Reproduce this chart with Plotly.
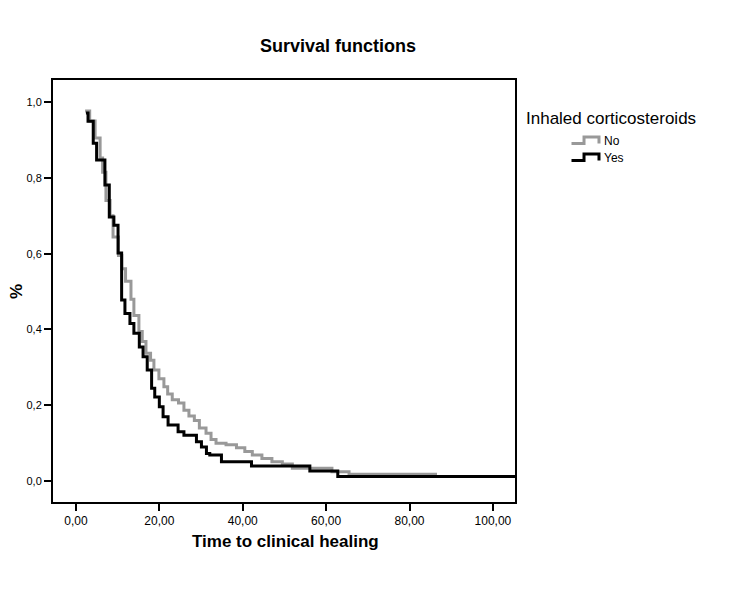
import plotly.graph_objects as go

# Kaplan-Meier step data
t_no = [2.2, 3.3, 4.6, 5.8, 6.4, 7.2, 8.2, 8.9, 10.2, 11.0, 11.9, 13.2, 13.9, 15.1,
        15.9, 16.8, 17.9, 18.7, 19.9, 21.1, 22.0, 23.1, 24.6, 25.9, 27.1, 28.4, 29.6,
        31.2, 32.4, 33.6, 36.0, 38.5, 40.5, 42.3, 44.6, 47.0, 49.5, 51.9, 61.4, 65.5, 86.6]
s_no = [0.976, 0.950, 0.905, 0.852, 0.815, 0.740, 0.700, 0.644, 0.595, 0.560, 0.527,
        0.480, 0.437, 0.395, 0.368, 0.337, 0.319, 0.293, 0.270, 0.249, 0.230, 0.215,
        0.206, 0.187, 0.172, 0.160, 0.140, 0.126, 0.110, 0.100, 0.096, 0.088, 0.078,
        0.069, 0.060, 0.051, 0.045, 0.034, 0.025, 0.018, 0.018]

t_yes = [2.4, 2.9, 4.15, 4.96, 6.95, 8.0, 9.1, 10.1, 10.96, 11.75, 12.95, 13.9, 15.2,
         16.1, 17.1, 18.15, 18.9, 20.0, 20.9, 22.1, 24.5, 25.9, 28.9, 30.1, 31.3, 32.1,
         34.9, 42.1, 56.1, 62.8, 106.0]
s_yes = [0.971, 0.949, 0.891, 0.847, 0.781, 0.697, 0.675, 0.602, 0.478, 0.442, 0.416,
         0.390, 0.354, 0.328, 0.293, 0.245, 0.222, 0.196, 0.170, 0.148, 0.130, 0.121,
         0.104, 0.090, 0.073, 0.069, 0.051, 0.040, 0.027, 0.012, 0.012]

x_ticks = [0, 20, 40, 60, 80, 100]
x_tick_labels = ["0,00", "20,00", "40,00", "60,00", "80,00", "100,00"]
y_ticks = [0, 0.2, 0.4, 0.6, 0.8, 1.0]
y_tick_labels = ["0,0", "0,2", "0,4", "0,6", "0,8", "1,0"]

groups = ["No", "Yes"]
colors = ["#999999", "#000000"]

FONT = "Liberation Sans, Arial, sans-serif"
OFF = 8  # default page body margin
W, H = 744 - OFF, 593 - OFF
L, R, T, B = 53, 515, 80, 502  # plot area in reference pixels

fig = go.Figure()
fig.add_trace(go.Scatter(x=t_no, y=s_no, mode="lines", line=dict(shape="hv", color=colors[0], width=3),
                         name=groups[0], showlegend=False))
fig.add_trace(go.Scatter(x=t_yes, y=s_yes, mode="lines", line=dict(shape="hv", color=colors[1], width=3),
                         name=groups[1], showlegend=False))


def px(xp):
    return (xp - L) / (R - L)


def py(yp):
    return (B - yp) / (B - T)


# manual legend with step icons
shapes = []
annotations = []
for i, (g, c) in enumerate(zip(groups, colors)):
    dy = i * 17
    path = "M {:.4f},{:.4f} L {:.4f},{:.4f} L {:.4f},{:.4f} L {:.4f},{:.4f} L {:.4f},{:.4f}".format(
        px(571.5), py(143.5 + dy), px(584), py(143.5 + dy), px(584), py(137 + dy),
        px(599), py(137 + dy), px(599), py(143.5 + dy))
    shapes.append(dict(type="path", path=path, xref="paper", yref="paper",
                       line=dict(color=c, width=3)))
    annotations.append(dict(text=g, x=px(602), y=py(141 + dy), xref="paper", yref="paper",
                            xanchor="left", yanchor="middle", showarrow=False,
                            font=dict(family=FONT, size=12, color="#000")))
annotations.append(dict(text="Inhaled corticosteroids", x=px(524), y=py(118), xref="paper", yref="paper",
                        xanchor="left", yanchor="middle", showarrow=False,
                        font=dict(family=FONT, size=17, color="#000")))
annotations.append(dict(text="<b>%</b>", x=px(16), y=py(292), xref="paper", yref="paper",
                        xanchor="center", yanchor="middle", showarrow=False, textangle=-90,
                        font=dict(family=FONT, size=17, color="#000")))
annotations.append(dict(text="<b>Time to clinical healing</b>", x=px(285), y=py(541), xref="paper", yref="paper",
                        xanchor="center", yanchor="middle", showarrow=False,
                        font=dict(family=FONT, size=17, color="#000")))

fig.update_layout(
    width=W, height=H,
    margin=dict(l=L - OFF, r=W - (R - OFF), t=T - OFF, b=H - (B - OFF), autoexpand=False),
    paper_bgcolor="white", plot_bgcolor="white",
    font=dict(family=FONT, size=11, color="#000"),
    title=dict(text="<b>Survival functions</b>", xref="container", x=(338 - OFF) / W, xanchor="center",
               yref="container", y=1 - (46 - OFF) / H, yanchor="middle",
               font=dict(family=FONT, size=18, color="#000")),
    xaxis=dict(range=[-5.5, 105.3], tickvals=x_ticks, ticktext=x_tick_labels, automargin=False,
               showgrid=False, zeroline=False, showline=True, linecolor="#000", linewidth=2,
               mirror=True, ticks="outside", ticklen=7, tickwidth=2, tickcolor="#000",
               tickfont=dict(family=FONT, size=12)),
    yaxis=dict(range=[-0.055, 1.058], tickvals=y_ticks, ticktext=y_tick_labels, automargin=False,
               showgrid=False, zeroline=False, showline=True, linecolor="#000", linewidth=2,
               mirror=True, ticks="outside", ticklen=7, tickwidth=2, tickcolor="#000",
               tickfont=dict(family=FONT, size=11)),
    shapes=shapes,
    annotations=annotations,
)

fig.write_html("out.html")
